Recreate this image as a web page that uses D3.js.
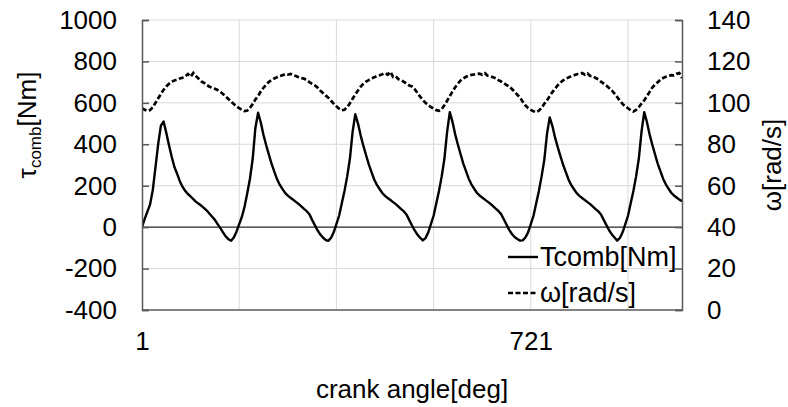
<!DOCTYPE html>
<html>
<head>
<meta charset="utf-8">
<script src="https://cdn.jsdelivr.net/npm/d3@7"></script>
<style>
  html, body { margin: 0; padding: 0; background: #fff; }
  svg { display: block; }
  text { font-family: "Liberation Sans", Arial, sans-serif; fill: #000; }
</style>
</head>
<body>
<svg id="chart" width="788" height="407"></svg>
<script>
// Crank angle samples [deg], every 5 degrees
const angles = d3.range(1, 1002, 5);

// Combustion torque [Nm]
const torque = [
  0, 40, 75, 110, 180, 290, 402, 490, 510, 455,
  395, 340, 290, 258, 222, 195, 175, 160, 148, 135,
  122, 113, 103, 92, 80, 65, 50, 35, 15, -5,
  -25, -45, -58, -66, -50, -22, 15, 50, 100, 165,
  235, 330, 480, 552, 505, 445, 395, 350, 305, 268,
  232, 205, 185, 165, 152, 142, 132, 122, 112, 100,
  88, 77, 62, 35, 10, -15, -35, -50, -62, -66,
  -52, -25, 15, 55, 115, 175, 245, 330, 460, 545,
  500, 442, 392, 347, 303, 266, 230, 204, 184, 165,
  151, 141, 131, 121, 111, 99, 87, 76, 60, 34,
  8, -16, -36, -51, -64, -53, -26, 14, 55, 115,
  175, 245, 330, 460, 555, 508, 448, 398, 352, 307,
  270, 234, 207, 186, 166, 153, 143, 133, 123, 113,
  101, 89, 78, 63, 38, 12, -13, -33, -48, -57,
  -65, -64, -50, -25, 15, 55, 115, 175, 245, 325,
  450, 530, 488, 432, 385, 342, 300, 264, 229, 203,
  183, 164, 151, 141, 131, 121, 111, 99, 87, 76,
  61, 35, 10, -15, -35, -50, -65, -52, -25, 15,
  55, 115, 175, 245, 330, 460, 555, 508, 448, 398,
  352, 307, 270, 234, 207, 186, 166, 153, 143, 133,
  125
];

// Crankshaft angular speed [rad/s]
const omega = [
  97.4, 96.7, 96.1, 96.5, 97.9, 100.0, 102.2, 104.3, 106.3, 107.9,
  109.2, 110.2, 110.8, 111.2, 111.8, 112.1, 112.8, 113.9, 112.6, 114.4,
  112.9, 111.6, 110.3, 109.6, 108.6, 107.8, 107.3, 106.8, 106.2, 105.3,
  104.3, 103.1, 101.9, 100.6, 99.4, 98.3, 97.4, 96.6, 96.0, 96.3,
  97.6, 99.4, 101.6, 103.3, 105.6, 107.3, 108.8, 110.2, 111.0, 111.8,
  112.4, 112.9, 113.3, 113.8, 113.6, 114.0, 113.4, 113.0, 112.4, 111.9,
  111.7, 111.0, 110.0, 109.2, 108.4, 107.4, 106.0, 104.8, 103.6, 102.5,
  101.0, 99.6, 98.3, 97.2, 96.4, 96.7, 97.9, 99.8, 102.0, 104.1,
  106.0, 107.8, 109.2, 110.3, 111.0, 111.8, 112.3, 112.9, 113.3, 113.8,
  114.4, 113.6, 115.0, 112.5, 112.8, 111.4, 111.0, 110.1, 109.3, 108.4,
  107.9, 106.6, 104.8, 103.0, 101.4, 100.0, 98.9, 98.0, 97.2, 96.5,
  96.2, 97.0, 98.8, 101.0, 103.3, 105.5, 107.5, 109.3, 110.8, 111.8,
  112.6, 113.2, 113.5, 113.7, 113.9, 114.1, 113.6, 114.3, 113.1, 112.9,
  112.4, 111.9, 111.0, 110.3, 109.5, 108.6, 107.9, 106.7, 105.4, 103.9,
  102.6, 100.6, 98.8, 97.5, 96.6, 96.0, 95.5, 96.2, 97.6, 99.6,
  101.2, 103.3, 105.2, 106.9, 108.5, 109.8, 110.9, 111.6, 112.3, 112.9,
  113.3, 113.8, 114.0, 114.4, 113.6, 114.2, 113.0, 112.8, 112.0, 111.4,
  110.2, 109.3, 108.3, 107.2, 106.0, 104.5, 102.8, 101.0, 99.5, 98.3,
  97.4, 96.5, 95.8, 96.6, 98.0, 99.6, 101.2, 103.2, 105.3, 107.4,
  108.8, 110.0, 111.2, 112.0, 112.6, 113.0, 113.4, 113.3, 114.0, 114.4,
  112.0
];

// Axis ticks and labels
const torqueTicks = [-400, -200, 0, 200, 400, 600, 800, 1000];
const omegaTicks = [0, 20, 40, 60, 80, 100, 120, 140];
const angleLabels = [1, 721];
const angleGrid = [181, 361, 541, 721, 901];
const seriesNames = ["Tcomb[Nm]", "ω[rad/s]"];

const svg = d3.select("#chart");
const plot = { left: 142, right: 682, top: 20, bottom: 310 };

const x = d3.scaleLinear().domain([1, 1001]).range([plot.left, plot.right]);
const yL = d3.scaleLinear().domain([-400, 1000]).range([plot.bottom, plot.top]);
const yR = d3.scaleLinear().domain([0, 140]).range([plot.bottom, plot.top]);

const gridColor = "#d9d9d9";
const axisColor = "#595959";
const fontSize = 26;
const plainNumber = d => String(d);

// Horizontal gridlines
svg.append("g")
  .selectAll("line")
  .data(torqueTicks.filter(t => t !== 0 && t !== -400))
  .join("line")
  .attr("x1", plot.left).attr("x2", plot.right)
  .attr("y1", d => yL(d)).attr("y2", d => yL(d))
  .attr("stroke", gridColor).attr("stroke-width", 1);

// Vertical gridlines
svg.append("g")
  .selectAll("line")
  .data(angleGrid)
  .join("line")
  .attr("x1", d => x(d)).attr("x2", d => x(d))
  .attr("y1", plot.top).attr("y2", plot.bottom)
  .attr("stroke", gridColor).attr("stroke-width", 1);

// Zero torque line
svg.append("line")
  .attr("x1", plot.left).attr("x2", plot.right)
  .attr("y1", yL(0)).attr("y2", yL(0))
  .attr("stroke", "#262626").attr("stroke-width", 1.2);

// Series
const torqueLine = d3.line()
  .x((d, i) => x(angles[i]))
  .y(d => yL(d));
const omegaLine = d3.line()
  .x((d, i) => x(angles[i]))
  .y(d => yR(d));

svg.append("clipPath").attr("id", "plotClip")
  .append("rect")
  .attr("x", plot.left).attr("y", plot.top - 5)
  .attr("width", plot.right - plot.left).attr("height", plot.bottom - plot.top + 10);

svg.append("path")
  .datum(torque)
  .attr("clip-path", "url(#plotClip)")
  .attr("d", torqueLine)
  .attr("fill", "none")
  .attr("stroke", "#000")
  .attr("stroke-width", 2.4)
  .attr("stroke-linejoin", "round");

svg.append("path")
  .datum(omega)
  .attr("clip-path", "url(#plotClip)")
  .attr("d", omegaLine)
  .attr("fill", "none")
  .attr("stroke", "#000")
  .attr("stroke-width", 2.7)
  .attr("stroke-dasharray", "5,2.5");

// Plot frame (bottom)
svg.append("line")
  .attr("x1", plot.left).attr("x2", plot.right)
  .attr("y1", plot.bottom).attr("y2", plot.bottom)
  .attr("stroke", axisColor).attr("stroke-width", 1.5);

// Left axis (torque)
const gL = svg.append("g")
  .attr("transform", `translate(${plot.left},0)`)
  .call(d3.axisLeft(yL).tickValues(torqueTicks).tickSize(-7).tickPadding(25).tickFormat(plainNumber));

// Right axis (angular speed)
const gR = svg.append("g")
  .attr("transform", `translate(${plot.right},0)`)
  .call(d3.axisRight(yR).tickValues(omegaTicks).tickSize(-7).tickPadding(25).tickFormat(plainNumber));

// Bottom axis (crank angle)
const gB = svg.append("g")
  .attr("transform", `translate(0,${plot.bottom})`)
  .call(d3.axisBottom(x).tickValues(angleLabels).tickSize(0).tickPadding(22).tickFormat(plainNumber));

[gL, gR, gB].forEach(g => {
  g.select(".domain").attr("stroke", axisColor).attr("stroke-width", 1.5);
  g.selectAll(".tick line").attr("stroke", axisColor).attr("stroke-width", 1.5);
  g.selectAll(".tick text")
    .attr("font-family", "Liberation Sans, Arial, sans-serif")
    .attr("font-size", fontSize)
    .attr("fill", "#000");
});
gB.select(".domain").remove();

// Axis titles
const yTitle = svg.append("text")
  .attr("transform", "translate(36,125) rotate(-90)")
  .attr("text-anchor", "middle")
  .attr("font-size", fontSize);
yTitle.append("tspan").text("τ");
yTitle.append("tspan").attr("font-size", 17).attr("dy", 5).text("comb");
yTitle.append("tspan").attr("dy", -5).text("[Nm]");

svg.append("text")
  .attr("transform", "translate(781,165) rotate(-90)")
  .attr("text-anchor", "middle")
  .attr("font-size", fontSize)
  .text("ω[rad/s]");

svg.append("text")
  .attr("x", (plot.left + plot.right) / 2)
  .attr("y", 398)
  .attr("text-anchor", "middle")
  .attr("font-size", fontSize)
  .text("crank angle[deg]");

// Legend
const legend = svg.append("g");
const legendRows = [
  { name: seriesNames[0], y: 257, dash: null, w: 2.4 },
  { name: seriesNames[1], y: 293, dash: "5,2.5", w: 2.7 }
];
legendRows.forEach(r => {
  legend.append("line")
    .attr("x1", 508).attr("x2", 538)
    .attr("y1", r.y).attr("y2", r.y)
    .attr("stroke", "#000").attr("stroke-width", r.w)
    .attr("stroke-dasharray", r.dash);
  legend.append("text")
    .attr("x", 540).attr("y", r.y + 9)
    .attr("font-size", 27)
    .text(r.name);
});
</script>
</body>
</html>
